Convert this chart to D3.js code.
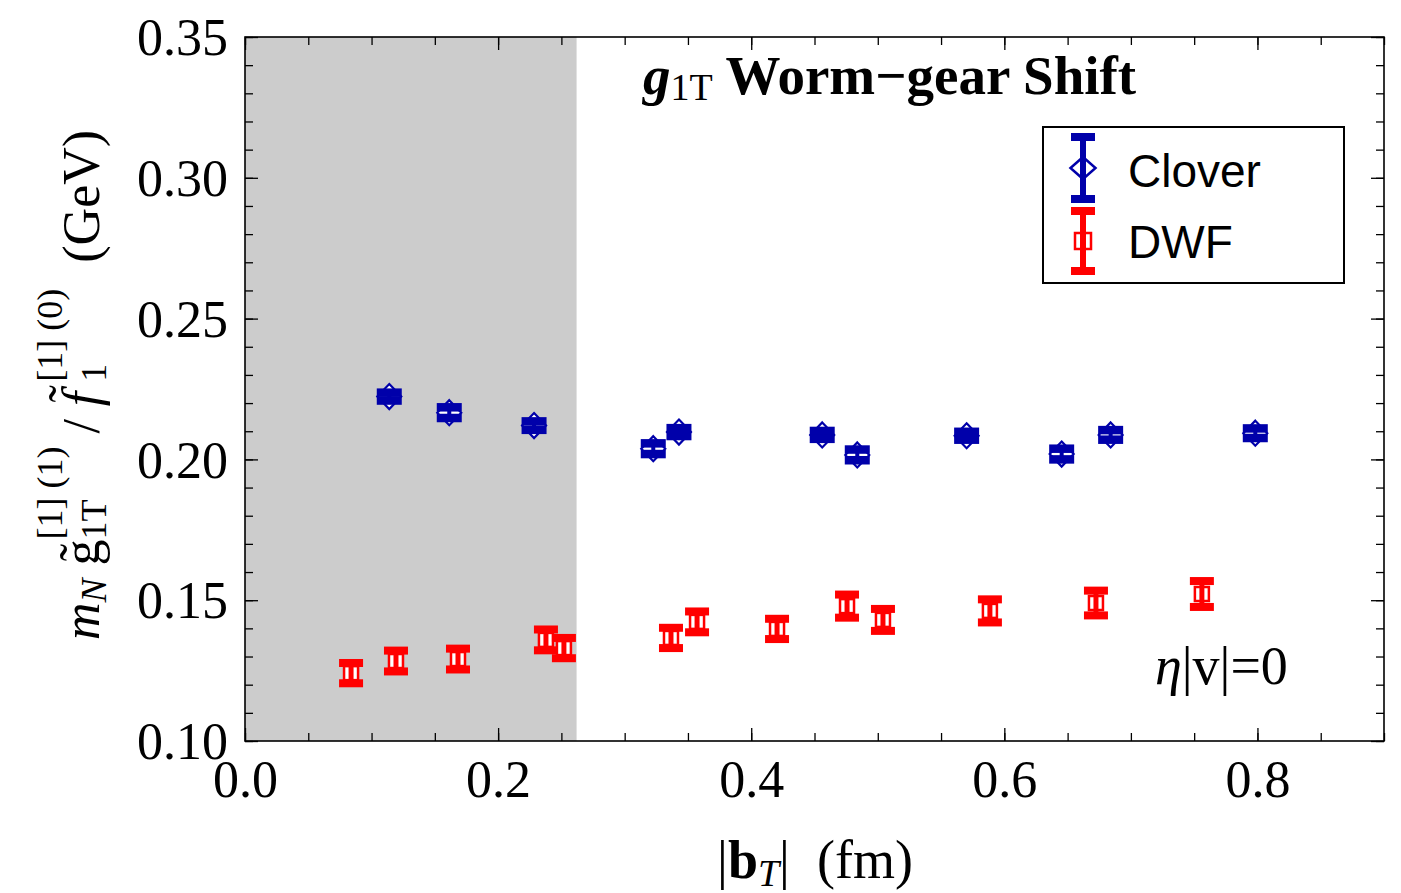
<!DOCTYPE html>
<html>
<head>
<meta charset="utf-8">
<script src="https://cdn.jsdelivr.net/npm/d3@7"></script>
<style>
  body { margin: 0; background: #fff; }
  text { font-family: "Liberation Serif", "Times New Roman", serif; }
</style>
</head>
<body>
<svg id="chart" width="1401" height="893"></svg>
<script>
// ----------------------
// data
// ----------------------
const cloverX   = [0.1140, 0.1614, 0.2284, 0.3226, 0.3429, 0.4561, 0.4838, 0.5702, 0.6453, 0.6840, 0.7983];
const cloverY   = [0.2223, 0.2166, 0.2120, 0.2038, 0.2097, 0.2087, 0.2016, 0.2084, 0.2019, 0.2087, 0.2093];
const cloverErr = [0.0014, 0.0019, 0.0015, 0.0019, 0.0014, 0.0014, 0.0019, 0.0014, 0.0019, 0.0017, 0.0017];

const dwfX   = [0.0838, 0.1193, 0.1683, 0.2378, 0.2520, 0.3366, 0.3572, 0.4204, 0.4757, 0.5041, 0.5886, 0.6724, 0.7561];
const dwfY   = [0.1241, 0.1284, 0.1291, 0.1359, 0.1330, 0.1366, 0.1423, 0.1398, 0.1479, 0.1430, 0.1462, 0.1490, 0.1522];
const dwfErr = [0.0036, 0.0037, 0.0037, 0.0037, 0.0036, 0.0036, 0.0037, 0.0036, 0.0041, 0.0039, 0.0041, 0.0044, 0.0046];

const xMajor = [0, 0.2, 0.4, 0.6, 0.8];
const yMajor = [0.10, 0.15, 0.20, 0.25, 0.30, 0.35];
const shadeEnd = 0.262;

const BLUE = "#0000aa";
const RED = "#ff0000";

// ----------------------
// layout
// ----------------------
const svg = d3.select("#chart");
const plotL = 245, plotR = 1384, plotT = 37, plotB = 741;

const x = d3.scaleLinear().domain([0, 0.9]).range([plotL, plotR]);
const y = d3.scaleLinear().domain([0.10, 0.35]).range([plotB, plotT]);

const xMinor = d3.range(0, 0.9001, 0.05);
const yMinor = d3.range(0.10, 0.3501, 0.01);

// shaded region
svg.append("rect")
    .attr("x", x(0)).attr("y", plotT)
    .attr("width", x(shadeEnd) - x(0))
    .attr("height", plotB - plotT)
    .attr("fill", "#cccccc");

// ----------------------
// axes (ticks point inward on all four sides)
// ----------------------
function tickAxis(axis, vals, size, pos, labels) {
    const g = svg.append("g").attr("transform", pos);
    g.call(axis.tickValues(vals).tickSizeInner(size).tickSizeOuter(0)
        .tickFormat(labels ? labels : ""));
    g.select(".domain").remove();
    g.selectAll("line").attr("stroke", "#000").attr("stroke-width", 1.3);
    return g;
}

const bx = tickAxis(d3.axisBottom(x), xMajor, -13, `translate(0,${plotB})`, d3.format(".1f"));
tickAxis(d3.axisBottom(x), xMinor, -8, `translate(0,${plotB})`);
tickAxis(d3.axisTop(x), xMajor, -13, `translate(0,${plotT})`);
tickAxis(d3.axisTop(x), xMinor, -8, `translate(0,${plotT})`);

const ly = tickAxis(d3.axisLeft(y), yMajor, -13, `translate(${plotL},0)`, d3.format(".2f"));
tickAxis(d3.axisLeft(y), yMinor, -8, `translate(${plotL},0)`);
tickAxis(d3.axisRight(y), yMajor, -13, `translate(${plotR},0)`);
tickAxis(d3.axisRight(y), yMinor, -8, `translate(${plotR},0)`);

bx.selectAll("text")
    .attr("y", 56).attr("dy", 0)
    .style("font-family", "Liberation Serif")
    .style("font-size", "52px").attr("fill", "#000");
ly.selectAll("text")
    .attr("x", -17).attr("dy", "0.34em")
    .style("font-family", "Liberation Serif")
    .style("font-size", "52px").attr("fill", "#000");

// frame
svg.append("rect")
    .attr("x", plotL).attr("y", plotT)
    .attr("width", plotR - plotL).attr("height", plotB - plotT)
    .attr("fill", "none").attr("stroke", "#000").attr("stroke-width", 1.6);

// ----------------------
// data marks
// ----------------------
const clover = cloverX.map((d, i) => ({ x: d, y: cloverY[i], e: cloverErr[i] }));
const dwf = dwfX.map((d, i) => ({ x: d, y: dwfY[i], e: dwfErr[i] }));

function errorBars(data, color, capW, capT, barW) {
    const g = svg.append("g");
    g.selectAll(".bar").data(data).enter().append("line")
        .attr("x1", d => x(d.x)).attr("x2", d => x(d.x))
        .attr("y1", d => y(d.y + d.e)).attr("y2", d => y(d.y - d.e))
        .attr("stroke", color).attr("stroke-width", barW);
    [1, -1].forEach(s => {
        g.selectAll(".cap" + s).data(data).enter().append("rect")
            .attr("x", d => x(d.x) - capW / 2)
            .attr("y", d => y(d.y + s * d.e) - capT / 2)
            .attr("width", capW).attr("height", capT)
            .attr("fill", color);
    });
    return g;
}

// DWF: hollow squares under the bars
svg.append("g").selectAll("rect").data(dwf).enter().append("rect")
    .attr("x", d => x(d.x) - 7).attr("y", d => y(d.y) - 7)
    .attr("width", 14).attr("height", 14)
    .attr("fill", "#fff").attr("stroke", RED).attr("stroke-width", 2.5);
errorBars(dwf, RED, 24, 8, 5);

// Clover: hollow diamonds
const diamond = (cx, cy, w, h) => `M${cx},${cy - h} L${cx + w},${cy} L${cx},${cy + h} L${cx - w},${cy} Z`;
svg.append("g").selectAll("path").data(clover).enter().append("path")
    .attr("d", d => diamond(x(d.x), y(d.y), 12, 12.5))
    .attr("fill", "#fff").attr("stroke", BLUE).attr("stroke-width", 2.2);
errorBars(clover, BLUE, 25, 8.5, 4);

// ----------------------
// legend
// ----------------------
const lg = svg.append("g");
lg.append("rect")
    .attr("x", 1043).attr("y", 127).attr("width", 301).attr("height", 156)
    .attr("fill", "#fff").attr("stroke", "#000").attr("stroke-width", 2);

function legendGlyph(cx, y1, y2, color, kind) {
    lg.append("line").attr("x1", cx).attr("x2", cx).attr("y1", y1).attr("y2", y2)
        .attr("stroke", color).attr("stroke-width", 6);
    [y1, y2].forEach(yy => lg.append("rect")
        .attr("x", cx - 12).attr("y", yy - 4).attr("width", 24).attr("height", 8)
        .attr("fill", color));
    const cy = (y1 + y2) / 2;
    if (kind === "diamond") {
        lg.append("path").attr("d", diamond(cx, cy, 12.5, 11))
            .attr("fill", "none").attr("stroke", color).attr("stroke-width", 2.5);
    } else {
        lg.append("rect").attr("x", cx - 8).attr("y", cy - 8).attr("width", 16).attr("height", 16)
            .attr("fill", "none").attr("stroke", color).attr("stroke-width", 2.5);
    }
}
legendGlyph(1083, 137, 199, BLUE, "diamond");
legendGlyph(1083, 211, 271, RED, "square");

[["Clover", 187], ["DWF", 258]].forEach(([t, yy]) => {
    lg.append("text").attr("x", 1128).attr("y", yy)
        .style("font-family", "Liberation Sans, Arial, sans-serif")
        .style("font-size", "46px").text(t);
});

// ----------------------
// texts built from pieces
// ----------------------
function pieces(g, items) {
    let cx = 0;
    const mk = (p, px) => g.append("text")
        .attr("x", px).attr("y", p.dy || 0)
        .style("font-size", p.size + "px")
        .style("font-weight", p.bold ? "bold" : "normal")
        .style("font-style", p.italic ? "italic" : "normal")
        .attr("xml:space", "preserve")
        .text(p.t);
    items.forEach(p => {
        cx += p.gap || 0;
        if (p.stack) {
            const w = d3.max(p.stack, q => mk(q, cx).node().getComputedTextLength());
            cx += w;
        } else {
            const w = mk(p, cx).node().getComputedTextLength();
            if (p.tilde !== undefined) {
                // accent drawn over the letter
                g.append("text")
                    .attr("x", cx + w / 2 + (p.tildeDx || 0)).attr("y", p.tilde)
                    .attr("text-anchor", "middle")
                    .style("font-size", p.size + "px")
                    .text("\u02dc");
            }
            cx += w;
        }
    });
    return cx;
}

// title
const tg = svg.append("g").attr("transform", "translate(643,94)");
pieces(tg, [
    { t: "g", size: 55, bold: true, italic: true },
    { t: "1T", size: 38, dy: 6 },
    { t: " Worm\u2212gear Shift", size: 55, bold: true }
]);

// eta label
const eg = svg.append("g").attr("transform", "translate(1155,684)");
pieces(eg, [
    { t: "\u03b7", size: 54, italic: true },
    { t: "|v|=0", size: 54 }
]);

// x label
const xg = svg.append("g");
const xw = pieces(xg, [
    { t: "|", size: 54 },
    { t: "b", size: 54, bold: true },
    { t: "T", size: 38, italic: true, dy: 8 },
    { t: "|", size: 54 },
    { t: "  (fm)", size: 54 }
]);
xg.attr("transform", `translate(${815 - xw / 2},878)`);

// y label (rotated)
const yo = svg.append("g").attr("transform", "translate(99,385) rotate(-90)");
const yi = yo.append("g");
const yw = pieces(yi, [
    { t: "m", size: 52, italic: true },
    { t: "N", size: 36, italic: true, dy: 7 },
    { t: " ", size: 52 },
    { t: "g", size: 52, tilde: -3 },
    { stack: [{ t: "1T", size: 36, dy: 7 }, { t: "[1] (1)", size: 36, dy: -37 }] },
    { t: " / ", size: 52 },
    { t: "f", size: 52, italic: true, tilde: -14, tildeDx: 5 },
    { gap: 10, stack: [{ t: "1", size: 36, dy: 7 }, { t: "[1] (0)", size: 36, dy: -37 }] },
    { t: "  (GeV)", size: 52 }
]);
yi.attr("transform", `translate(${-yw / 2},0)`);
</script>
</body>
</html>
